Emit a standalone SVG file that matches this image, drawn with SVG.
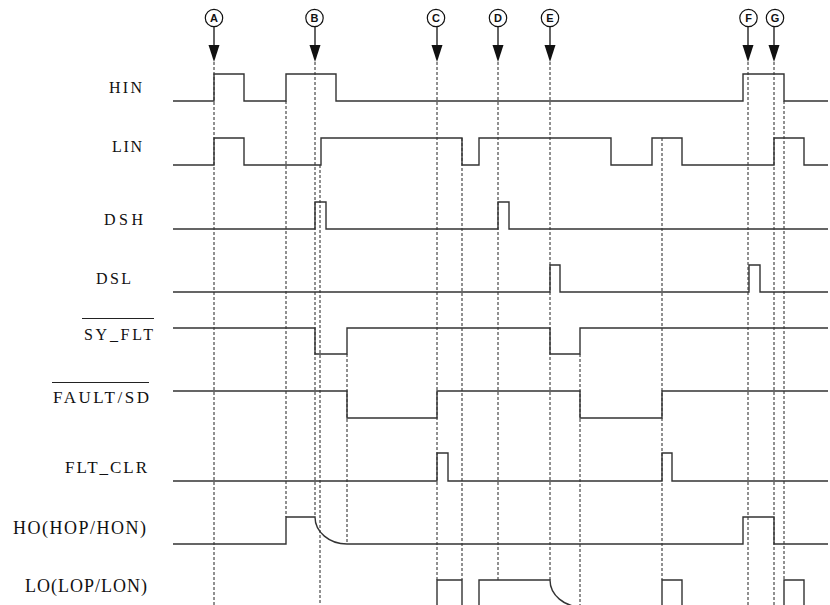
<svg xmlns="http://www.w3.org/2000/svg" width="830" height="605" viewBox="0 0 830 605">
<style>
.bg{fill:#ffffff}
.lbl{font-family:"Liberation Serif","Times New Roman",serif;font-size:16px;fill:#111}
.ov{stroke:#222;stroke-width:1;fill:none}
.wave{stroke:#333;stroke-width:1.4;fill:none}
.dash{stroke:#222;stroke-width:1;stroke-dasharray:3,2;fill:none}
.mk circle{fill:#fff;stroke:#111;stroke-width:1.2}
.mk text{font-family:"Liberation Sans",Arial,sans-serif;font-weight:bold;font-size:11px;fill:#111;text-anchor:middle}
.mk line{stroke:#111;stroke-width:1.3}
.mk polygon{fill:#111}
</style>
<rect class="bg" x="0" y="0" width="830" height="605"/>

<g id="connectors">
  <line class="dash" x1="214" y1="62" x2="214" y2="605"/>
  <line class="dash" x1="286" y1="101" x2="286" y2="517"/>
  <line class="dash" x1="315" y1="62" x2="315" y2="517"/>
  <line class="dash" x1="320" y1="165" x2="320" y2="605"/>
  <line class="dash" x1="347" y1="354" x2="347" y2="544"/>
  <line class="dash" x1="437" y1="62" x2="437" y2="580"/>
  <line class="dash" x1="462" y1="138" x2="462" y2="580"/>
  <line class="dash" x1="498" y1="62" x2="498" y2="580"/>
  <line class="dash" x1="550" y1="62" x2="550" y2="580"/>
  <line class="dash" x1="580" y1="354" x2="580" y2="605"/>
  <line class="dash" x1="662" y1="138" x2="662" y2="580"/>
  <line class="dash" x1="748" y1="62" x2="748" y2="605"/>
  <line class="dash" x1="774" y1="62" x2="774" y2="605"/>
  <line class="dash" x1="784" y1="101" x2="784" y2="580"/>
</g>

<g id="marker-A" class="mk"><circle cx="214" cy="18" r="8.7"/><text x="214" y="22">A</text><line x1="214" y1="27" x2="214" y2="46"/><polygon points="208.5,45 219.5,45 214,62"/></g>
<g id="marker-B" class="mk"><circle cx="314.5" cy="18" r="8.7"/><text x="314.5" y="22">B</text><line x1="315" y1="27" x2="315" y2="46"/><polygon points="309.5,45 320.5,45 315,62"/></g>
<g id="marker-C" class="mk"><circle cx="436" cy="18" r="8.7"/><text x="436" y="22">C</text><line x1="437" y1="27" x2="437" y2="46"/><polygon points="431.5,45 442.5,45 437,62"/></g>
<g id="marker-D" class="mk"><circle cx="498" cy="18" r="8.7"/><text x="498" y="22">D</text><line x1="498" y1="27" x2="498" y2="46"/><polygon points="492.5,45 503.5,45 498,62"/></g>
<g id="marker-E" class="mk"><circle cx="550" cy="18" r="8.7"/><text x="550" y="22">E</text><line x1="550" y1="27" x2="550" y2="46"/><polygon points="544.5,45 555.5,45 550,62"/></g>
<g id="marker-F" class="mk"><circle cx="748.5" cy="18" r="8.7"/><text x="748.5" y="22">F</text><line x1="748" y1="27" x2="748" y2="46"/><polygon points="742.5,45 753.5,45 748,62"/></g>
<g id="marker-G" class="mk"><circle cx="775" cy="18" r="8.7"/><text x="775" y="22">G</text><line x1="774" y1="27" x2="774" y2="46"/><polygon points="768.5,45 779.5,45 774,62"/></g>

<g id="sig-HIN">
  <text class="lbl" x="109" y="93" textLength="33">HIN</text>
  <path class="wave" d="M173,101 H214 V74 H244 V101 H286 V74 H336 V101 H743 V74 H784 V101 H828"/>
</g>
<g id="sig-LIN">
  <text class="lbl" x="112" y="152" textLength="30">LIN</text>
  <path class="wave" d="M173,165 H214 V138 H244 V165 H321 V138 H462 V165 H479 V138 H611 V165 H652 V138 H682 V165 H774 V138 H804 V165 H828"/>
</g>
<g id="sig-DSH">
  <text class="lbl" x="104" y="225" textLength="39">DSH</text>
  <path class="wave" d="M173,229 H315 V202 H326 V229 H498 V202 H509 V229 H828"/>
</g>
<g id="sig-DSL">
  <text class="lbl" x="96" y="284" textLength="35">DSL</text>
  <path class="wave" d="M173,292 H550 V265 H560 V292 H749 V265 H760 V292 H828"/>
</g>
<g id="sig-SY_FLT">
  <line class="ov" x1="82" y1="318.5" x2="154" y2="318.5"/>
  <text class="lbl" x="84" y="340" textLength="69">SY_FLT</text>
  <path class="wave" d="M173,328 H315 V354 H347 V328 H550 V354 H580 V328 H828"/>
</g>
<g id="sig-FAULT_SD">
  <line class="ov" x1="52" y1="382.5" x2="149" y2="382.5"/>
  <text class="lbl" x="53" y="403" textLength="96" style="font-size:17px">FAULT/SD</text>
  <path class="wave" d="M173,391 H347 V418 H437 V391 H580 V418 H662 V391 H828"/>
</g>
<g id="sig-FLT_CLR">
  <text class="lbl" x="65" y="473" textLength="82" style="font-size:17px">FLT_CLR</text>
  <path class="wave" d="M173,481 H437 V453 H448 V481 H662 V453 H672 V481 H828"/>
</g>
<g id="sig-HO">
  <text class="lbl" x="13" y="534" textLength="133" style="font-size:18px">HO(HOP/HON)</text>
  <path class="wave" d="M173,544 H286 V517 H315 A32,27 0 0 0 347,544 H743 V517 H774 V544 H828"/>
</g>
<g id="sig-LO">
  <text class="lbl" x="25" y="592" textLength="122" style="font-size:18px">LO(LOP/LON)</text>
  <path class="wave" d="M173,607 H437 V580 H462 V607 H479 V580 H550 A32,27 0 0 0 582,607 H662 V580 H682 V607 H784 V580 H804 V607 H828"/>
</g>
</svg>
